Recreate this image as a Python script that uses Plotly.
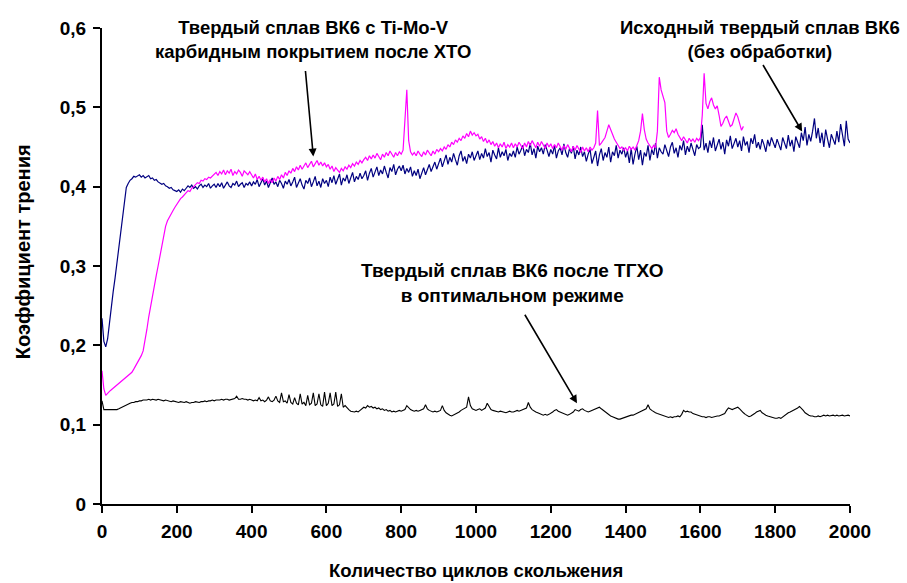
import plotly.graph_objects as go

# Sampling grid (cycles), step 5
cycles = list(range(0, 2001, 5))

# Исходный твердый сплав ВК6 (navy)
mu_initial = [
    0.234, 0.205, 0.198, 0.208, 0.228, 0.250, 0.268, 0.285, 0.305, 0.322, 0.342, 0.362, 0.385, 0.399, 0.404, 0.408, 0.410, 0.413, 0.412, 0.414,
    0.415, 0.412, 0.414, 0.411, 0.413, 0.414, 0.410, 0.411, 0.408, 0.409, 0.406, 0.405, 0.403, 0.404, 0.401, 0.400, 0.398, 0.399, 0.396, 0.395,
    0.394, 0.396, 0.393, 0.397, 0.395, 0.398, 0.401, 0.399, 0.402, 0.398, 0.400, 0.397, 0.401, 0.403, 0.399, 0.402, 0.400, 0.404, 0.398, 0.401,
    0.403, 0.399, 0.404, 0.400, 0.405, 0.398, 0.402, 0.406, 0.401, 0.399, 0.404, 0.402, 0.407, 0.400, 0.403, 0.405, 0.399, 0.404, 0.402, 0.406,
    0.401, 0.406, 0.403, 0.409, 0.400, 0.405, 0.410, 0.402, 0.407, 0.399, 0.404, 0.411, 0.403, 0.406, 0.400, 0.408, 0.404, 0.398, 0.407, 0.403,
    0.409, 0.401, 0.406, 0.412, 0.399, 0.405, 0.410, 0.402, 0.397, 0.408, 0.404, 0.411, 0.400, 0.406, 0.413, 0.401, 0.407, 0.399, 0.410, 0.404,
    0.408, 0.400, 0.412, 0.405, 0.414, 0.403, 0.409, 0.416, 0.402, 0.411, 0.407, 0.415, 0.404, 0.412, 0.418, 0.406, 0.413, 0.409, 0.417, 0.410,
    0.414, 0.420, 0.408, 0.417, 0.423, 0.412, 0.419, 0.425, 0.414, 0.421, 0.416, 0.426, 0.418, 0.411, 0.424, 0.419, 0.428, 0.415, 0.422, 0.426,
    0.420, 0.427, 0.416, 0.423, 0.418, 0.425, 0.413, 0.420, 0.414, 0.422, 0.410, 0.418, 0.424, 0.415, 0.421, 0.428, 0.419, 0.426, 0.431, 0.422,
    0.429, 0.436, 0.425, 0.433, 0.440, 0.428, 0.437, 0.431, 0.442, 0.434, 0.427, 0.439, 0.445, 0.432, 0.438, 0.429, 0.441, 0.436, 0.444, 0.433,
    0.439, 0.445, 0.434, 0.442, 0.436, 0.448, 0.438, 0.443, 0.431, 0.446, 0.440, 0.435, 0.449, 0.437, 0.444, 0.439, 0.447, 0.433, 0.442, 0.438,
    0.445, 0.437, 0.450, 0.441, 0.446, 0.452, 0.439, 0.447, 0.443, 0.455, 0.440, 0.448, 0.436, 0.451, 0.444, 0.449, 0.441, 0.453, 0.446, 0.438,
    0.447, 0.441, 0.452, 0.436, 0.445, 0.449, 0.440, 0.454, 0.443, 0.437, 0.448, 0.442, 0.451, 0.435, 0.446, 0.440, 0.450, 0.438, 0.444, 0.432,
    0.441, 0.447, 0.429, 0.438, 0.445, 0.426, 0.440, 0.448, 0.433, 0.443, 0.437, 0.450, 0.431, 0.444, 0.439, 0.452, 0.436, 0.446, 0.441, 0.449,
    0.437, 0.445, 0.430, 0.448, 0.428, 0.441, 0.451, 0.434, 0.446, 0.427, 0.443, 0.438, 0.452, 0.433, 0.447, 0.440, 0.455, 0.436, 0.449, 0.444,
    0.441, 0.453, 0.445, 0.438, 0.450, 0.456, 0.442, 0.449, 0.437, 0.452, 0.446, 0.458, 0.440, 0.451, 0.444, 0.455, 0.447, 0.439, 0.453, 0.448,
    0.450, 0.478, 0.446, 0.455, 0.443, 0.458, 0.449, 0.462, 0.445, 0.453, 0.460, 0.447, 0.456, 0.441, 0.459, 0.451, 0.464, 0.448, 0.455, 0.461,
    0.450, 0.458, 0.445, 0.463, 0.452, 0.457, 0.443, 0.461, 0.454, 0.466, 0.449, 0.456, 0.447, 0.460, 0.453, 0.444, 0.459, 0.451, 0.462, 0.455,
    0.449, 0.460, 0.453, 0.446, 0.462, 0.455, 0.448, 0.465, 0.451, 0.459, 0.444, 0.463, 0.456, 0.449, 0.468, 0.458, 0.475, 0.452, 0.466, 0.457,
    0.470, 0.486, 0.461, 0.474, 0.455, 0.468, 0.450, 0.472, 0.460, 0.449, 0.466, 0.458, 0.453, 0.470, 0.456, 0.479, 0.462, 0.451, 0.483, 0.460,
    0.455,
]

# Твердый сплав ВК6 с Ti-Mo-V карбидным покрытием после ХТО (magenta)
mu_coated = [
    0.168, 0.145, 0.137, 0.140, 0.142, 0.144, 0.146, 0.148, 0.150, 0.151, 0.153, 0.155, 0.157, 0.159, 0.161, 0.163, 0.166, 0.170, 0.174, 0.179,
    0.183, 0.187, 0.193, 0.205, 0.220, 0.236, 0.250, 0.262, 0.274, 0.288, 0.300, 0.313, 0.326, 0.340, 0.350, 0.357, 0.362, 0.366, 0.370, 0.374,
    0.378, 0.381, 0.385, 0.387, 0.390, 0.392, 0.395, 0.394, 0.398, 0.400, 0.403, 0.405, 0.404, 0.408, 0.407, 0.410, 0.409, 0.412, 0.411, 0.413,
    0.415, 0.418, 0.414, 0.419, 0.416, 0.421, 0.415, 0.420, 0.417, 0.422, 0.414, 0.419, 0.416, 0.421, 0.418, 0.413, 0.420, 0.417, 0.415, 0.419,
    0.414, 0.411, 0.416, 0.409, 0.413, 0.408, 0.412, 0.406, 0.410, 0.404, 0.409, 0.405, 0.411, 0.407, 0.413, 0.409, 0.415, 0.411, 0.418, 0.414,
    0.420, 0.417, 0.423, 0.419, 0.425, 0.421, 0.427, 0.422, 0.426, 0.430, 0.424, 0.428, 0.432, 0.425, 0.429, 0.433, 0.427, 0.431, 0.426, 0.430,
    0.425, 0.428, 0.422, 0.426, 0.419, 0.424, 0.421, 0.418, 0.423, 0.420, 0.425, 0.422, 0.427, 0.424, 0.429, 0.426, 0.431, 0.428, 0.433, 0.430,
    0.434, 0.437, 0.433, 0.439, 0.435, 0.440, 0.436, 0.442, 0.438, 0.434, 0.441, 0.437, 0.443, 0.439, 0.445, 0.440, 0.437, 0.443, 0.439, 0.444,
    0.441, 0.446, 0.478, 0.522, 0.458, 0.444, 0.440, 0.443, 0.439, 0.445, 0.441, 0.438, 0.444, 0.440, 0.446, 0.442, 0.439, 0.445, 0.441, 0.447,
    0.444, 0.448, 0.445, 0.450, 0.447, 0.453, 0.450, 0.456, 0.453, 0.459, 0.456, 0.461, 0.458, 0.464, 0.461, 0.467, 0.463, 0.470, 0.465, 0.468,
    0.464, 0.466, 0.460, 0.463, 0.457, 0.461, 0.455, 0.459, 0.453, 0.457, 0.451, 0.455, 0.449, 0.454, 0.450, 0.456, 0.448, 0.453, 0.450, 0.455,
    0.449, 0.454, 0.450, 0.456, 0.451, 0.448, 0.455, 0.450, 0.457, 0.452, 0.458, 0.453, 0.449, 0.456, 0.451, 0.457, 0.452, 0.448, 0.455, 0.450,
    0.454, 0.448, 0.453, 0.449, 0.455, 0.450, 0.446, 0.452, 0.447, 0.453, 0.448, 0.444, 0.451, 0.446, 0.452, 0.447, 0.443, 0.450, 0.445, 0.449,
    0.444, 0.450, 0.446, 0.449, 0.455, 0.496, 0.452, 0.455, 0.458, 0.462, 0.470, 0.478, 0.472, 0.465, 0.460, 0.456, 0.452, 0.448, 0.450, 0.446,
    0.449, 0.445, 0.451, 0.447, 0.450, 0.446, 0.452, 0.458, 0.470, 0.492, 0.472, 0.460, 0.455, 0.451, 0.448, 0.452, 0.449, 0.470, 0.538, 0.522,
    0.513, 0.506, 0.470, 0.462, 0.466, 0.471, 0.468, 0.473, 0.466, 0.462, 0.458, 0.463, 0.459, 0.455, 0.461, 0.457, 0.460, 0.456, 0.461, 0.458,
    0.462, 0.490, 0.543, 0.505, 0.498, 0.507, 0.512, 0.503, 0.498, 0.502, 0.490, 0.476, 0.480, 0.486, 0.489, 0.482, 0.476, 0.478, 0.487, 0.493,
    0.488, 0.479, 0.471, 0.476,
]

# Твердый сплав ВК6 после ТГХО в оптимальном режиме (black)
mu_treated = [
    0.130, 0.119, 0.119, 0.119, 0.119, 0.119, 0.119, 0.119, 0.119, 0.120, 0.121, 0.123, 0.124, 0.125, 0.126, 0.127, 0.128, 0.128, 0.129, 0.129,
    0.130, 0.130, 0.131, 0.131, 0.131, 0.132, 0.131, 0.132, 0.131, 0.131, 0.132, 0.131, 0.131, 0.130, 0.131, 0.130, 0.130, 0.129, 0.130, 0.129,
    0.129, 0.128, 0.129, 0.128, 0.128, 0.129, 0.128, 0.127, 0.128, 0.128, 0.129, 0.128, 0.128, 0.129, 0.129, 0.130, 0.129, 0.130, 0.130, 0.131,
    0.130, 0.131, 0.131, 0.131, 0.132, 0.131, 0.132, 0.132, 0.131, 0.132, 0.132, 0.133, 0.136, 0.132, 0.132, 0.133, 0.132, 0.132, 0.131, 0.132,
    0.131, 0.130, 0.131, 0.130, 0.134, 0.130, 0.131, 0.129, 0.131, 0.135, 0.130, 0.129, 0.131, 0.136, 0.130, 0.128, 0.140, 0.129, 0.130, 0.127,
    0.138, 0.128, 0.126, 0.134, 0.127, 0.125, 0.139, 0.126, 0.128, 0.124, 0.137, 0.125, 0.127, 0.140, 0.124, 0.126, 0.139, 0.125, 0.123, 0.141,
    0.124, 0.127, 0.140, 0.124, 0.126, 0.141, 0.123, 0.125, 0.139, 0.122, 0.124, 0.121, 0.119, 0.117, 0.116, 0.116, 0.117, 0.116, 0.118, 0.120,
    0.122, 0.121, 0.124, 0.122, 0.123, 0.121, 0.122, 0.120, 0.121, 0.119, 0.120, 0.118, 0.119, 0.117, 0.118, 0.116, 0.117, 0.116, 0.117, 0.118,
    0.117, 0.118, 0.119, 0.124, 0.121, 0.119, 0.118, 0.117, 0.118, 0.117, 0.118, 0.119, 0.120, 0.125, 0.120, 0.118, 0.117, 0.116, 0.117, 0.116,
    0.117, 0.118, 0.124, 0.118, 0.115, 0.113, 0.112, 0.111, 0.112, 0.113, 0.114, 0.116, 0.118, 0.119, 0.121, 0.122, 0.135, 0.124, 0.120, 0.119,
    0.118, 0.119, 0.120, 0.118, 0.119, 0.121, 0.127, 0.122, 0.119, 0.118, 0.117, 0.116, 0.116, 0.117, 0.116, 0.116, 0.115, 0.116, 0.117, 0.116,
    0.116, 0.117, 0.118, 0.117, 0.118, 0.119, 0.120, 0.121, 0.128, 0.122, 0.119, 0.117, 0.116, 0.115, 0.114, 0.113, 0.112, 0.113, 0.112, 0.113,
    0.114, 0.116, 0.118, 0.119, 0.117, 0.116, 0.115, 0.114, 0.113, 0.112, 0.113, 0.114, 0.116, 0.119, 0.118, 0.117, 0.119, 0.120, 0.118, 0.117,
    0.116, 0.117, 0.118, 0.119, 0.120, 0.121, 0.122, 0.120, 0.118, 0.116, 0.114, 0.112, 0.111, 0.110, 0.109, 0.108, 0.107, 0.107, 0.108, 0.108,
    0.109, 0.110, 0.111, 0.112, 0.112, 0.113, 0.114, 0.115, 0.116, 0.118, 0.119, 0.120, 0.125, 0.120, 0.118, 0.116, 0.115, 0.114, 0.113, 0.112,
    0.111, 0.110, 0.110, 0.109, 0.110, 0.109, 0.110, 0.110, 0.111, 0.110, 0.113, 0.118, 0.116, 0.117, 0.116, 0.116, 0.114, 0.113, 0.112, 0.111,
    0.111, 0.110, 0.110, 0.109, 0.110, 0.110, 0.109, 0.110, 0.110, 0.111, 0.111, 0.112, 0.113, 0.114, 0.118, 0.121, 0.120, 0.119, 0.120, 0.121,
    0.122, 0.120, 0.117, 0.115, 0.113, 0.111, 0.110, 0.111, 0.112, 0.114, 0.116, 0.117, 0.118, 0.115, 0.113, 0.112, 0.111, 0.110, 0.109, 0.109,
    0.108, 0.108, 0.109, 0.108, 0.110, 0.112, 0.114, 0.115, 0.116, 0.117, 0.118, 0.119, 0.121, 0.123, 0.121, 0.118, 0.115, 0.113, 0.112, 0.111,
    0.111, 0.110, 0.110, 0.111, 0.110, 0.111, 0.112, 0.111, 0.112, 0.111, 0.112, 0.112, 0.111, 0.112, 0.111, 0.112, 0.112, 0.111, 0.112, 0.112,
    0.111,
]

x_tick_vals = [0, 200, 400, 600, 800, 1000, 1200, 1400, 1600, 1800, 2000]
x_tick_labels = ["0", "200", "400", "600", "800", "1000", "1200", "1400", "1600", "1800", "2000"]
y_tick_vals = [0, 0.1, 0.2, 0.3, 0.4, 0.5, 0.6]
y_tick_labels = ["0", "0,1", "0,2", "0,3", "0,4", "0,5", "0,6"]

x_title = "Количество циклов скольжения"
y_title = "Коэффициент трения"
label_coated = "Твердый сплав ВК6 с Ti-Mo-V<br>карбидным покрытием после ХТО"
label_initial = "Исходный твердый сплав ВК6<br>(без обработки)"
label_treated = "Твердый сплав ВК6 после ТГХО<br>в оптимальном режиме"

FONT = "Liberation Sans, Arial, sans-serif"

fig = go.Figure()
fig.add_trace(go.Scatter(x=cycles[:len(mu_treated)], y=mu_treated, mode="lines",
                         line=dict(color="#000000", width=1.1), showlegend=False))
fig.add_trace(go.Scatter(x=cycles[:len(mu_initial)], y=mu_initial, mode="lines",
                         line=dict(color="#000080", width=1.2), showlegend=False))
fig.add_trace(go.Scatter(x=cycles[:len(mu_coated)], y=mu_coated, mode="lines",
                         line=dict(color="#ff00ff", width=1.2), showlegend=False))

def afont(size):
    return dict(family=FONT, size=size, color="black")

annotations = [
    dict(x=565, y=0.585, xref="x", yref="y", text="<b>" + label_coated + "</b>",
         showarrow=False, font=afont(18.5), align="center", xanchor="center", yanchor="middle"),
    dict(x=1760, y=0.586, xref="x", yref="y", text="<b>" + label_initial + "</b>",
         showarrow=False, font=afont(18.5), align="center", xanchor="center", yanchor="middle"),
    dict(x=1096, y=0.279, xref="x", yref="y", text="<b>" + label_treated + "</b>",
         showarrow=False, font=afont(19), align="center", xanchor="center", yanchor="middle"),
    dict(x=565, y=0.438, xref="x", yref="y", text="", showarrow=True, ax=-8, ay=-87,
         arrowhead=2, arrowsize=1, arrowwidth=1.6, arrowcolor="black"),
    dict(x=1872, y=0.4695, xref="x", yref="y", text="", showarrow=True, ax=-40, ay=-68,
         arrowhead=2, arrowsize=1, arrowwidth=1.6, arrowcolor="black"),
    dict(x=1270, y=0.127, xref="x", yref="y", text="", showarrow=True, ax=-53, ay=-90,
         arrowhead=2, arrowsize=1, arrowwidth=1.6, arrowcolor="black"),
    # axis titles
    dict(x=0.5, y=-0.1387, xref="paper", yref="paper", text="<b>" + x_title + "</b>",
         showarrow=False, font=afont(18.5), xanchor="center", yanchor="middle"),
    dict(x=-0.1063, y=0.530, xref="paper", yref="paper", text="<b>" + y_title + "</b>",
         showarrow=False, font=afont(20), textangle=-90, xanchor="center", yanchor="middle"),
]

fig.update_layout(
    width=907, height=583,
    margin=dict(l=102, r=57, t=28, b=79),
    paper_bgcolor="white", plot_bgcolor="white",
    font=dict(family=FONT, size=18, color="black"),
    annotations=annotations,
    showlegend=False,
)
fig.update_xaxes(
    range=[0, 2000], tickmode="array", tickvals=x_tick_vals, ticktext=["<b>%s</b>" % t for t in x_tick_labels],
    showline=True, linecolor="black", linewidth=2, ticks="outside", ticklen=7, tickwidth=2, tickcolor="black",
    showgrid=False, zeroline=False, automargin=False, ticklabelstandoff=2,
    tickfont=dict(family=FONT, size=19),
)
fig.update_yaxes(
    range=[0, 0.6], tickmode="array", tickvals=y_tick_vals, ticktext=["<b>%s</b>" % t for t in y_tick_labels],
    showline=True, linecolor="black", linewidth=2, ticks="outside", ticklen=7, tickwidth=2, tickcolor="black",
    showgrid=False, zeroline=False, automargin=False, ticklabelstandoff=3,
    tickfont=dict(family=FONT, size=19),
)

fig.write_html("out.html", config={"displayModeBar": False},
               post_script="document.body.style.margin='0px';")
